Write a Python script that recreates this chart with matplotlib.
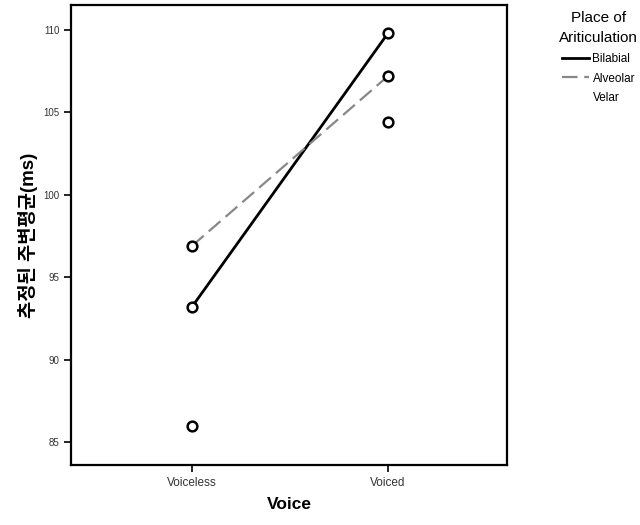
import matplotlib.pyplot as plt
from matplotlib.lines import Line2D

plt.rcParams['font.family'] = ['Liberation Sans', 'Noto Sans CJK KR', 'DejaVu Sans']

voice = ['Voiceless', 'Voiced']
bilabial = [93.2, 109.8]
alveolar = [96.9, 107.2]
velar = [86.0, 104.4]
yticks = [85, 90, 95, 100, 105, 110]

fig = plt.figure(figsize=(6.4, 5.25), dpi=100)
ax = fig.add_axes([0.111, 0.114, 0.681, 0.876])

x = [0, 1]
ax.plot(x, bilabial, color='black', lw=2, marker='o', ms=7, mfc='white', mec='black', mew=1.8)
ax.plot(x, alveolar, color='#888888', lw=1.6, ls=(0, (7, 3)), marker='o', ms=7,
        mfc='white', mec='black', mew=1.8)
ax.plot(x, velar, ls='none', marker='o', ms=7, mfc='white', mec='black', mew=1.8)

ax.set_xlim(-0.617, 1.607)
ax.set_ylim(83.6, 111.5)
ax.set_xticks(x)
ax.set_xticklabels(voice, fontsize=8.5, color='#333333')
ax.set_yticks(yticks)
ax.set_yticklabels([str(v) for v in yticks], fontsize=7, color='#333333')
ax.tick_params(direction='out', length=5, width=1.2)
for s in ax.spines.values():
    s.set_linewidth(1.6)

ax.set_xlabel('Voice', fontsize=12.5, fontweight='bold', labelpad=6)
ax.set_ylabel('추정된 주변평균(ms)', fontsize=13.5, fontweight='bold', labelpad=4)

handles = [
    Line2D([], [], color='black', lw=2),
    Line2D([], [], color='#888888', lw=1.6, ls=(0, (7, 3))),
    Line2D([], [], color='white', lw=0),
]
leg = fig.legend(handles, ['Bilabial', 'Alveolar', 'Velar'],
                 title='Place of\nAriticulation', loc='upper center',
                 bbox_to_anchor=(0.935, 0.99), frameon=False, fontsize=8.5,
                 title_fontsize=11, handlelength=2.3, handletextpad=0.3,
                 labelspacing=0.65, borderpad=0, alignment='center')
leg.get_title().set_multialignment('center')
leg.get_title().set_linespacing(1.55)

fig.savefig('out.png', dpi=100)
